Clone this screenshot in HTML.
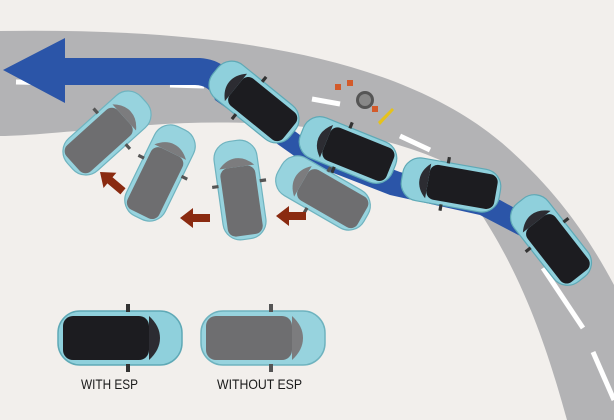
<!DOCTYPE html>
<html><head><meta charset="utf-8"><style>
html,body{margin:0;padding:0;background:#f2efec;}
svg{display:block}
text{font-family:"Liberation Sans",sans-serif;font-size:14px;fill:#1a1a1a;}
</style></head><body>
<svg width="614" height="420" viewBox="0 0 614 420" xmlns="http://www.w3.org/2000/svg">
<defs>
<g id="dk">
  <rect x="-62" y="-27" width="124" height="54" rx="22" fill="#8fd0dc" stroke="#5fa9b6" stroke-width="1.5"/>
  <rect x="-57" y="-22" width="86" height="44" rx="10" fill="#1c1c20"/>
  <path d="M29 -22 Q40 -12 40 0 Q40 12 29 22 Z" fill="#2c2c32"/>
  <rect x="6" y="-34" width="4" height="8" fill="#333"/>
  <rect x="6" y="26" width="4" height="8" fill="#333"/>
</g>
<g id="gr">
  <rect x="-62" y="-27" width="124" height="54" rx="22" fill="#97d3de" stroke="#6fb3bf" stroke-width="1.5"/>
  <rect x="-57" y="-22" width="86" height="44" rx="10" fill="#6e6e70"/>
  <path d="M29 -22 Q40 -12 40 0 Q40 12 29 22 Z" fill="#7c7c7e"/>
  <rect x="6" y="-34" width="4" height="8" fill="#555"/>
  <rect x="6" y="26" width="4" height="8" fill="#555"/>
</g>
<g id="ar"><path d="M0 0 L13 -10 L13 -4 L30 -4 L30 4 L13 4 L13 10 Z" fill="#8a2a10"/></g>
</defs>
<path d="M0 31 C200 28 400 50 510 150 C560 195 590 240 614 285 L614 420 L567 420 C550 360 520 250 440 160 C360 125 250 118 150 125 C80 130 30 136 0 136 Z" fill="#b3b3b5"/>
<g stroke="#fff" stroke-width="5" fill="none">
<line x1="16" y1="82" x2="60" y2="83"/><line x1="170" y1="85" x2="204" y2="86"/>
<line x1="312" y1="99" x2="340" y2="104"/><line x1="400" y1="136" x2="430" y2="150"/>
<line x1="543" y1="268" x2="583" y2="328"/><line x1="593" y1="352" x2="614" y2="400"/>
</g>
<path d="M3 70 L65 38 L65 58 L200 58 Q230 60 240 90 L300 135 L400 172 L500 200 L540 222 L528 240 L480 215 L390 195 L300 160 L215 100 Q210 85 195 85 L65 85 L65 103 Z" fill="#2b55a8"/>
<circle cx="365" cy="100" r="9" fill="#555"/><circle cx="365" cy="100" r="6" fill="#888"/>
<rect x="335" y="84" width="6" height="6" fill="#d35a2a"/><rect x="347" y="80" width="6" height="6" fill="#d35a2a"/>
<rect x="372" y="106" width="6" height="6" fill="#d35a2a"/>
<path d="M378 122 L392 108 L394 110 L380 125 Z" fill="#e6c21a"/>
<use href="#gr" transform="translate(107,133) rotate(-42) scale(0.8)"/>
<use href="#gr" transform="translate(160,173) rotate(-64) scale(0.8)"/>
<use href="#gr" transform="translate(240,190) rotate(-98) scale(0.8)"/>
<use href="#gr" transform="translate(323,193) rotate(-150) scale(0.8)"/>
<use href="#dk" transform="translate(254,102) rotate(-141) scale(0.8)"/>
<use href="#dk" transform="translate(348,150) rotate(-158) scale(0.8)"/>
<use href="#dk" transform="translate(451,185) rotate(-170) scale(0.8)"/>
<use href="#dk" transform="translate(551,240) rotate(-128) scale(0.8)"/>
<use href="#ar" transform="translate(100,172) rotate(40)"/>
<use href="#ar" transform="translate(180,218)"/>
<use href="#ar" transform="translate(276,216)"/>
<use href="#dk" transform="translate(120,338)"/>
<use href="#gr" transform="translate(263,338)"/>
<text x="81" y="389" textLength="57" lengthAdjust="spacingAndGlyphs">WITH ESP</text>
<text x="217" y="389" textLength="85" lengthAdjust="spacingAndGlyphs">WITHOUT ESP</text>
</svg>
</body></html>
